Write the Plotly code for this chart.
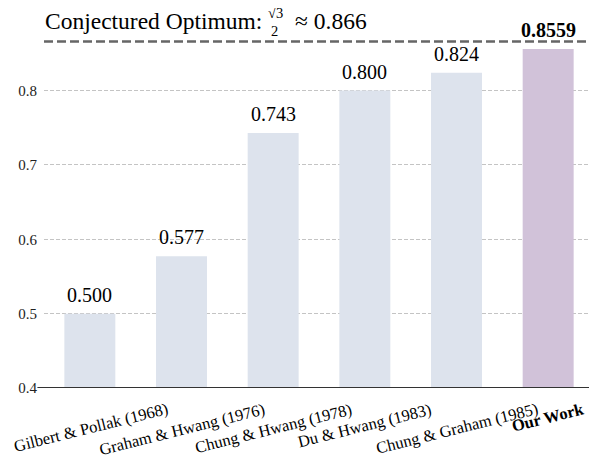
import plotly.graph_objects as go

categories = ["Gilbert & Pollak (1968)", "Graham & Hwang (1976)", "Chung & Hwang (1978)",
              "Du & Hwang (1983)", "Chung & Graham (1985)", "Our Work"]
values = [0.500, 0.577, 0.743, 0.800, 0.824, 0.8559]
value_labels = ["0.500", "0.577", "0.743", "0.800", "0.824", "0.8559"]
optimum = 0.866
y_ticks = [0.4, 0.5, 0.6, 0.7, 0.8]

FONT = "Liberation Serif"
bar_colors = ["#dde3ed"] * (len(categories) - 1) + ["#d1c2d9"]

fig = go.Figure()
fig.add_trace(go.Bar(x=categories, y=values, marker=dict(color=bar_colors, line=dict(width=0)),
                     hoverinfo="skip"))

annotations = []
for i, (c, v, t) in enumerate(zip(categories, values, value_labels)):
    last = i == len(categories) - 1
    annotations.append(dict(x=c, y=v, xref="x", yref="y", text=f"<b>{t}</b>" if last else t,
                            showarrow=False, yanchor="bottom", yshift=6,
                            font=dict(family=FONT, size=20, color="black")))
    annotations.append(dict(x=c, y=0, xref="x", yref="paper", text=f"<b>{c}</b>" if last else c,
                            showarrow=False, textangle=-14, xanchor="center", yanchor="top",
                            yshift=-9, xshift=0 if i else 1, font=dict(family=FONT, size=16.5, color="black")))

# Title text for the optimum line
annotations += [
    dict(x=0, y=optimum, xref="paper", yref="y", text="Conjectured Optimum:", showarrow=False,
         xanchor="left", yanchor="middle", xshift=-1, yshift=20,
         font=dict(family=FONT, size=23.5, color="black")),
    dict(x=0, y=optimum, xref="paper", yref="y", text="√3", showarrow=False,
         xanchor="center", yanchor="middle", xshift=231, yshift=28,
         font=dict(family=FONT, size=14.5, color="black")),
    dict(x=0, y=optimum, xref="paper", yref="y", text="2", showarrow=False,
         xanchor="center", yanchor="middle", xshift=230, yshift=10,
         font=dict(family=FONT, size=14.5, color="black")),
    dict(x=0, y=optimum, xref="paper", yref="y", text="≈ 0.866", showarrow=False,
         xanchor="left", yanchor="middle", xshift=249, yshift=20,
         font=dict(family=FONT, size=23.5, color="black")),
]

shapes = [
    dict(type="line", xref="paper", yref="y", x0=0, x1=1.02, y0=optimum, y1=optimum,
         line=dict(color="#666666", width=2.5, dash="9px,4px")),
    dict(type="line", xref="paper", yref="y", x0=-0.012, x1=1.02, y0=0.4, y1=0.4,
         line=dict(color="#333333", width=2)),
    # fraction bar
    dict(type="line", xref="paper", yref="y", xsizemode="pixel", xanchor=0, x0=220, x1=241,
         ysizemode="pixel", yanchor=optimum, y0=19, y1=19, line=dict(color="black", width=1)),
    # radical overbar
    dict(type="line", xref="paper", yref="y", xsizemode="pixel", xanchor=0, x0=230, x1=240,
         ysizemode="pixel", yanchor=optimum, y0=35, y1=35, line=dict(color="black", width=0.8)),
]

# The page body adds an 8px offset; the figure is sized so the plot lands where the reference has it.
fig.update_layout(
    width=589, height=456,
    margin=dict(l=36, r=3, t=23, b=76, autoexpand=False),
    paper_bgcolor="white", plot_bgcolor="white",
    bargap=0.444, showlegend=False,
    font=dict(family=FONT, color="black"),
    annotations=annotations, shapes=shapes,
    xaxis=dict(showticklabels=False, showgrid=False, zeroline=False, showline=False, ticks="",
               range=[-0.5, 5.5], automargin=False),
    yaxis=dict(range=[0.4, 0.88], tickvals=y_ticks, ticktext=[f"{t:.1f}" for t in y_ticks],
               showgrid=True, gridcolor="#c4c4c4", gridwidth=1, griddash="4px,2px",
               zeroline=False, showline=False, ticks="", ticklabelstandoff=6, automargin=False,
               tickfont=dict(family=FONT, size=15, color="#222222")),
)

fig.write_html("out.html")
